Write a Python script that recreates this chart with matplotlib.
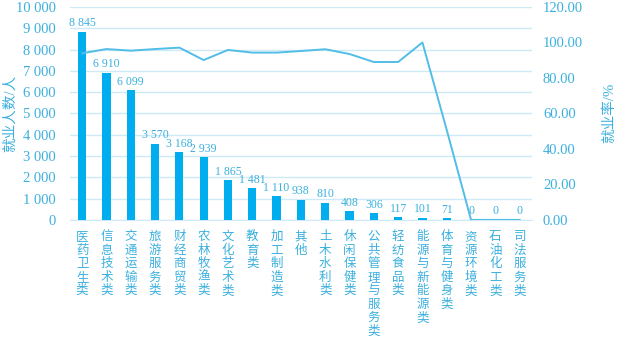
import matplotlib.pyplot as plt
from matplotlib.ticker import FuncFormatter

plt.rcParams['font.family'] = ['Liberation Serif', 'Noto Sans CJK SC']

categories = ['医药卫生类', '信息技术类', '交通运输类', '旅游服务类', '财经商贸类',
              '农林牧渔类', '文化艺术类', '教育类', '加工制造类', '其他', '土木水利类',
              '休闲保健类', '公共管理与服务类', '轻纺食品类', '能源与新能源类',
              '体育与健身类', '资源环境类', '石油化工类', '司法服务类']
employed = [8845, 6910, 6099, 3570, 3168, 2939, 1865, 1481, 1110, 938, 810,
            408, 306, 117, 101, 71, 0, 0, 0]
rate = [93.9, 96.3, 95.4, 96.3, 97.1, 90.1, 95.8, 94.3, 94.3, 95.2, 96.2,
        93.5, 89.0, 89.0, 100.0, 50.7, 0.0, 0.0, 0.0]

bar_c = '#00AEEF'
line_c = '#52BDE6'
txt_c = '#3BB0DE'
grid_c = '#CDEAF6'

def sep(v):
    return f'{int(v):,}'.replace(',', ' ')

fig = plt.figure(figsize=(6.22, 3.42), dpi=100)
ax = fig.add_axes([0.1125, 0.357, 0.7425, 0.6225])
x = list(range(len(categories)))

ax.bar(x, employed, width=0.34, color=bar_c, zorder=3)
for xi, v in zip(x, employed):
    ax.text(xi, v + 120, sep(v), ha='center', va='bottom', fontsize=8.5, color=txt_c, zorder=4)

ax.set_xlim(-0.5, len(categories) - 0.5)
ax.set_ylim(0, 10000)
ax.set_yticks(range(0, 10001, 1000))
ax.yaxis.set_major_formatter(FuncFormatter(lambda v, p: sep(v)))
ax.grid(axis='y', color=grid_c, linewidth=1, zorder=0)
ax.set_xticks(x)
ax.set_xticklabels(['\n'.join(c) for c in categories], fontsize=9, color=txt_c,
                   linespacing=1.17, va='top')
ax.tick_params(axis='x', length=0, pad=8)
ax.tick_params(axis='y', length=0, labelsize=10.5, labelcolor=txt_c, pad=10)
for s in ['top', 'right', 'left']:
    ax.spines[s].set_visible(False)
ax.spines['bottom'].set_color(grid_c)

ax2 = ax.twinx()
ax2.plot(x, rate, color=line_c, linewidth=1.4, zorder=5)
ax2.set_ylim(0, 120)
ax2.set_yticks(range(0, 121, 20))
ax2.yaxis.set_major_formatter(FuncFormatter(lambda v, p: f'{v:.2f}'))
ax2.tick_params(axis='y', length=0, labelsize=10.5, labelcolor=txt_c, pad=8)
for s in ['top', 'right', 'left', 'bottom']:
    ax2.spines[s].set_visible(False)

# axis titles placed directly on the figure
fig.text(10 / 622, 1 - 113 / 342, '就业人数/人', rotation=90, fontsize=10.5,
         color=txt_c, ha='center', va='center')
fig.text(609 / 622, 1 - 113 / 342, '就业率/%', rotation=90, fontsize=10.5,
         color=txt_c, ha='center', va='center')

fig.savefig('out.png', dpi=100)
